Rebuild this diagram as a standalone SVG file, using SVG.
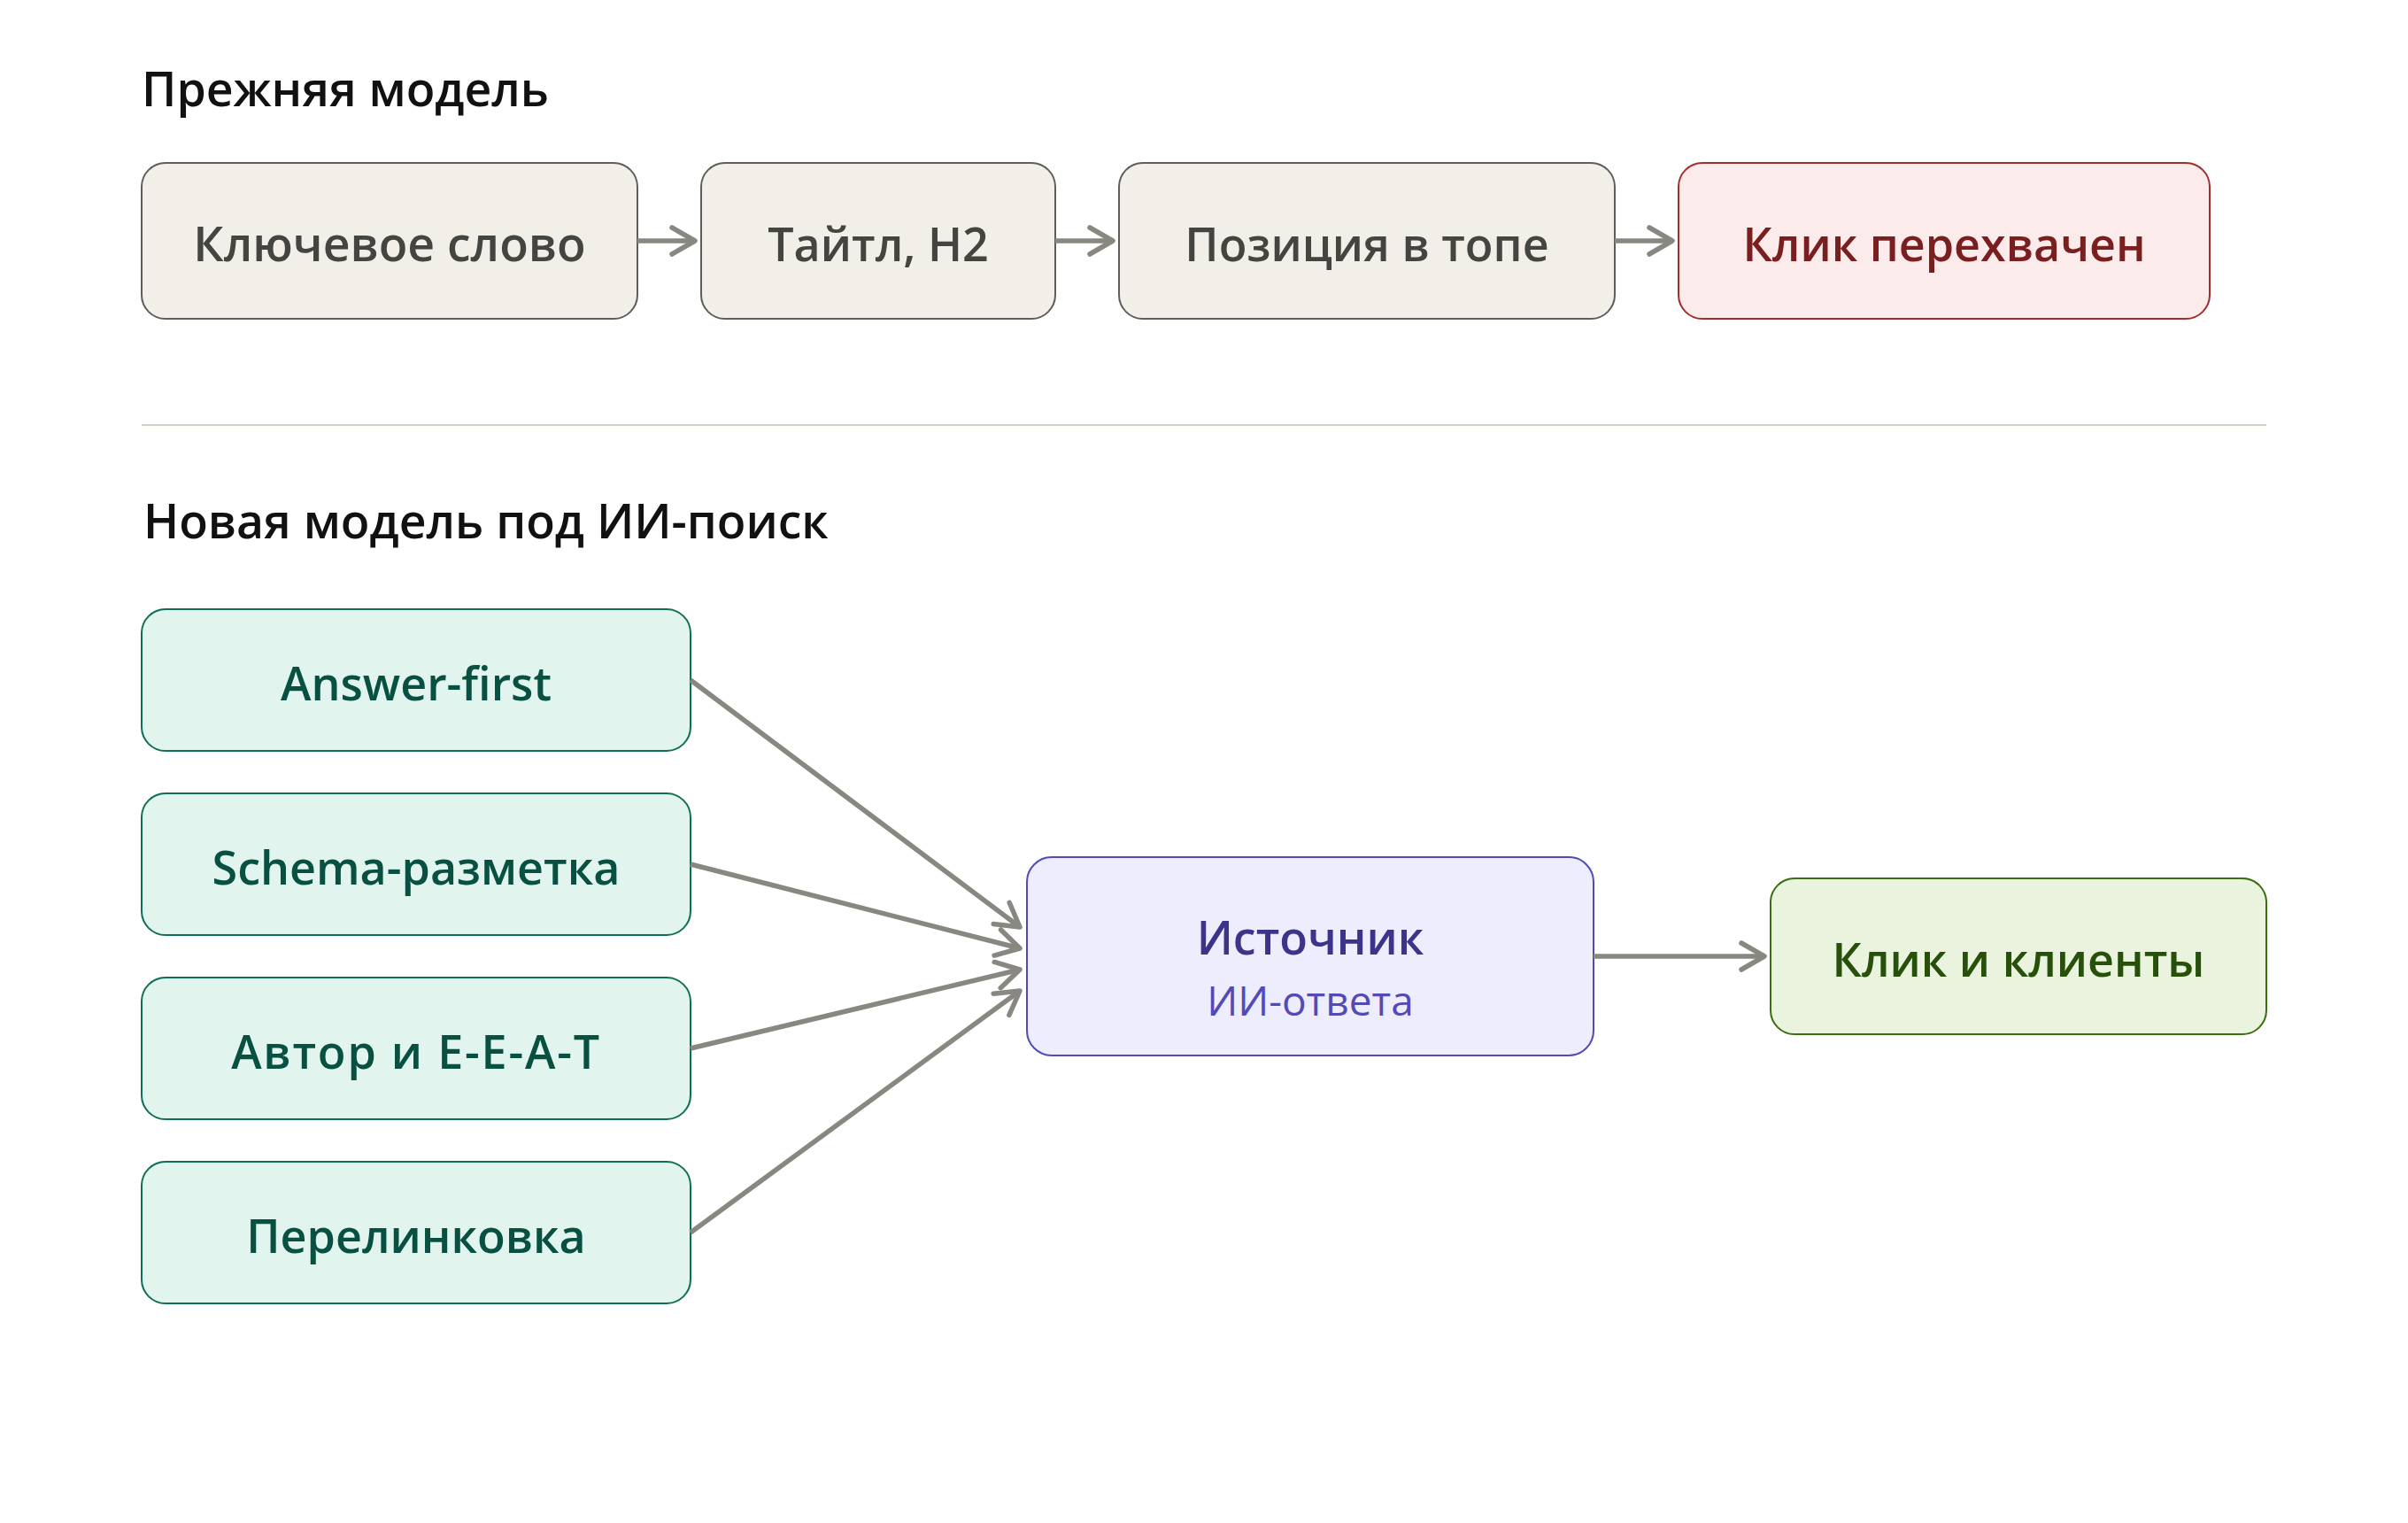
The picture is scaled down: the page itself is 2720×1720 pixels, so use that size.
<svg xmlns="http://www.w3.org/2000/svg" width="2720" height="1720" viewBox="0 0 2720 1720">
<defs>
<style>
.lbl{font-family:"Open Sans","Noto Sans","Liberation Sans",sans-serif;font-weight:600;font-size:52px;text-anchor:middle}
.ttl{font-family:"Open Sans","Noto Sans","Liberation Sans",sans-serif;font-weight:600;font-size:53.5px;fill:#111}
.sub{font-family:"Open Sans","Noto Sans","Liberation Sans",sans-serif;font-weight:400;font-size:46px;text-anchor:middle;fill:#534AB7}
.gray rect{fill:#F1EFE8;stroke:#5F5E5A;stroke-width:2}
.gray text{fill:#444441}
.red rect{fill:#FCEBEB;stroke:#A32D2D;stroke-width:2}
.red text{fill:#791F1F}
.teal rect{fill:#E1F5EE;stroke:#0F6E56;stroke-width:2}
.teal text{fill:#085041}
.purple rect{fill:#EEEDFE;stroke:#534AB7;stroke-width:2}
.purple text.lbl{fill:#3C3489}
.green rect{fill:#EAF3DE;stroke:#3B6D11;stroke-width:2}
.green text{fill:#27500A}
.conn line{stroke:#888780;stroke-width:5.5;fill:none;marker-end:url(#arr)}
</style>
<marker id="arr" markerUnits="userSpaceOnUse" viewBox="-34 -22 40 44" refX="0" refY="0" markerWidth="40" markerHeight="44" orient="auto" overflow="visible">
<path d="M-26,-15 L0,0 L-26,15" fill="none" stroke="#888780" stroke-width="5.5" stroke-linecap="round" stroke-linejoin="round"/>
</marker>
</defs>
<rect x="0" y="0" width="2720" height="1720" fill="#ffffff"/>

<text class="ttl" x="160" y="120">Прежняя модель</text>
<line x1="160" y1="480" x2="2560" y2="480" stroke="#D3D1C7" stroke-width="2"/>
<text class="ttl" x="162" y="608">Новая модель под ИИ-поиск</text>

<g id="n-keyword" class="gray">
<rect x="160" y="184" width="560" height="176" rx="27"/>
<text class="lbl" x="440" y="295" style="font-size:53.5px">Ключевое слово</text>
</g>
<g id="n-title" class="gray">
<rect x="792" y="184" width="400" height="176" rx="27"/>
<text class="lbl" x="992" y="295">Тайтл, H2</text>
</g>
<g id="n-position" class="gray">
<rect x="1264" y="184" width="560" height="176" rx="27"/>
<text class="lbl" x="1544" y="295">Позиция в топе</text>
</g>
<g id="n-intercepted" class="red">
<rect x="1896" y="184" width="600" height="176" rx="27"/>
<text class="lbl" x="2196" y="295">Клик перехвачен</text>
</g>

<g id="n-answer" class="teal">
<rect x="160" y="688" width="620" height="160" rx="27"/>
<text class="lbl" x="470" y="791">Answer-first</text>
</g>
<g id="n-schema" class="teal">
<rect x="160" y="896" width="620" height="160" rx="27"/>
<text class="lbl" x="470" y="999">Schema-разметка</text>
</g>
<g id="n-author" class="teal">
<rect x="160" y="1104" width="620" height="160" rx="27"/>
<text class="lbl" x="470" y="1207" style="letter-spacing:1.8px">Автор и E-E-A-T</text>
</g>
<g id="n-links" class="teal">
<rect x="160" y="1312" width="620" height="160" rx="27"/>
<text class="lbl" x="470" y="1415">Перелинковка</text>
</g>

<g id="n-source" class="purple">
<rect x="1160" y="968" width="640" height="224" rx="28"/>
<text class="lbl" x="1480" y="1078">Источник</text>
<text class="sub" x="1480" y="1147">ИИ-ответа</text>
</g>
<g id="n-clients" class="green">
<rect x="2000" y="992" width="560" height="176" rx="27"/>
<text class="lbl" x="2280" y="1103">Клик и клиенты</text>
</g>

<g id="connectors" class="conn">
<line x1="720" y1="272" x2="785" y2="272"/>
<line x1="1192" y1="272" x2="1257" y2="272"/>
<line x1="1824" y1="272" x2="1889" y2="272"/>
<line x1="780" y1="768" x2="1152" y2="1047"/>
<line x1="780" y1="976" x2="1152" y2="1071"/>
<line x1="780" y1="1184" x2="1152" y2="1095"/>
<line x1="780" y1="1392" x2="1152" y2="1119"/>
<line x1="1800" y1="1080" x2="1993" y2="1080"/>
</g>
</svg>
